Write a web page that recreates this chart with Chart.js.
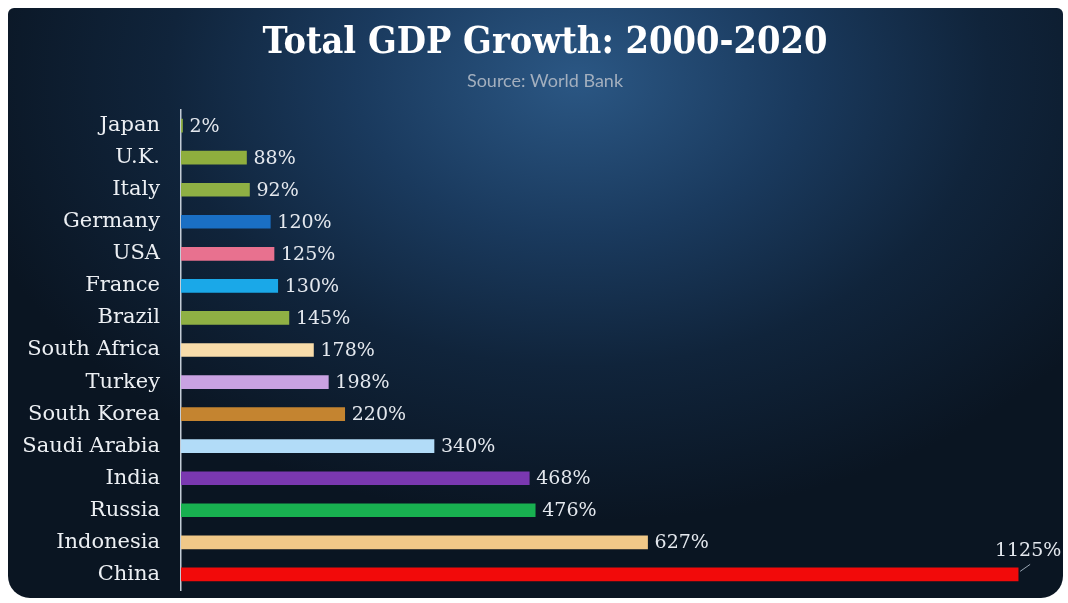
<!DOCTYPE html>
<html lang="en">
<head>
  <meta charset="UTF-8">
  <title>Total GDP Growth: 2000-2020</title>
  <script src="https://cdn.jsdelivr.net/npm/chart.js"></script>
  <style>
    html, body { margin: 0; padding: 0; background: #fff; overflow: hidden; }
    #wrap { position: relative; width: 1068px; height: 603px; overflow: hidden; }
    #panel {
      position: absolute; left: 8px; top: 8px; width: 1055px; height: 590px;
      border-radius: 6px 6px 22px 22px;
      background: radial-gradient(ellipse 60% 75% at 54% 12%, #2b5784 0%, #1a3a5e 35%, #10243b 65%, #0a1522 100%);
    }
    #chart { position: absolute; left: 0; top: 0; display: block; width: 1068px; height: 603px; }
  </style>
</head>
<body>
  <div id="wrap">
    <div id="panel"></div>
    <canvas id="chart" width="1068" height="603"></canvas>
  </div>
  <script>
    // adatok
    const countries = ['Japan', 'U.K.', 'Italy', 'Germany', 'USA', 'France', 'Brazil', 'South Africa',
      'Turkey', 'South Korea', 'Saudi Arabia', 'India', 'Russia', 'Indonesia', 'China'];
    const growth = [2, 88, 92, 120, 125, 130, 145, 178, 198, 220, 340, 468, 476, 627, 1125];
    const barColors = ['#8fb044', '#8fae3e', '#8fb044', '#1a6fc4', '#e8718f', '#1aa8e8', '#8fb044', '#f8dcaa',
      '#c9a2e2', '#c48430', '#b2dcf8', '#7a38b0', '#18b050', '#f0c888', '#f20a0a'];

    const labelFont = 'DejaVu Serif, serif';

    // értékcímkék a sávok végén
    const valueLabels = {
      id: 'valueLabels',
      afterDatasetsDraw(chart) {
        const ctx = chart.ctx;
        const meta = chart.getDatasetMeta(0);
        ctx.save();
        ctx.font = '19px ' + labelFont;
        ctx.fillStyle = '#e4e8ee';
        ctx.textBaseline = 'middle';
        meta.data.forEach((bar, i) => {
          const txt = growth[i] + '%';
          const w = ctx.measureText(txt).width;
          if (bar.x + 7 + w > chart.width - 4) {
            // nincs hely: a sáv vége fölé, kis vonallal
            ctx.strokeStyle = '#9aa6b4';
            ctx.lineWidth = 1;
            ctx.beginPath();
            ctx.moveTo(bar.x + 2, bar.y - 3);
            ctx.lineTo(bar.x + 12, bar.y - 10);
            ctx.stroke();
            ctx.textAlign = 'center';
            ctx.fillText(txt, bar.x + 10, bar.y - 23);
          } else {
            ctx.textAlign = 'left';
            ctx.fillText(txt, bar.x + 7, bar.y + 1);
          }
        });
        ctx.restore();
      }
    };

    new Chart(document.getElementById('chart'), {
      type: 'bar',
      data: {
        labels: countries,
        datasets: [{
          data: growth,
          backgroundColor: barColors,
          borderWidth: 0,
          barThickness: 13
        }]
      },
      options: {
        indexAxis: 'y',
        responsive: false,
        maintainAspectRatio: false,
        animation: false,
        layout: { padding: { left: 22, right: 0, top: 0, bottom: 0 } },
        plugins: {
          legend: { display: false },
          tooltip: { enabled: false },
          title: {
            display: true,
            text: 'Total GDP Growth: 2000-2020',
            color: '#ffffff',
            font: { family: 'DejaVu Serif Condensed, DejaVu Serif, serif', size: 37.5, weight: 'bold' },
            padding: { top: 21, bottom: 4 }
          },
          subtitle: {
            display: true,
            text: 'Source: World Bank',
            color: '#a3afbe',
            font: { family: 'Lato, sans-serif', size: 18 },
            padding: { top: 0, bottom: 18 }
          }
        },
        scales: {
          x: {
            display: false,
            min: 0,
            max: 1192
          },
          y: {
            afterFit(scale) { scale.width = 159; },
            grid: { display: true, color: 'rgba(0,0,0,0)', drawTicks: true, tickLength: 21, tickColor: 'rgba(0,0,0,0)' },
            border: { display: true, color: '#c3ccd6', width: 1.5 },
            ticks: {
              color: '#eceff3',
              padding: 0,
              font: { family: labelFont, size: 21 }
            }
          }
        }
      },
      plugins: [valueLabels]
    });
  </script>
</body>
</html>
